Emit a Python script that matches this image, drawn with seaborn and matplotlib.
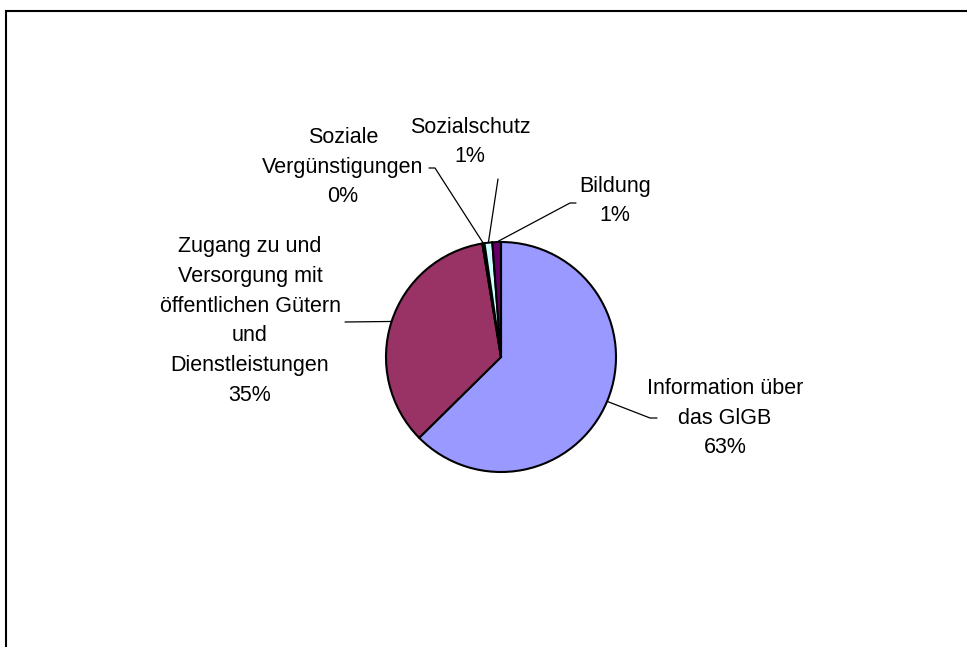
import numpy as np
import matplotlib.pyplot as plt
import seaborn as sns
from matplotlib.patches import Rectangle

# shares of enquiries per topic (percent), clockwise from 12 o'clock
topics = ["Information über\ndas GlGB",
          "Zugang zu und\nVersorgung mit\nöffentlichen Gütern\nund\nDienstleistungen",
          "Soziale\nVergünstigungen",
          "Sozialschutz",
          "Bildung"]
shares = [62.6, 34.8, 0.3, 1.1, 1.2]
colors = ["#9999FF", "#993366", "#FFFFCC", "#CCFFFF", "#660066"]

sns.set_theme(style="white")
plt.rcParams['font.family'] = ['Liberation Sans', 'DejaVu Sans']

W, H = 967, 647
fig = plt.figure(figsize=(W / 100, H / 100), dpi=100)
ax = fig.add_axes([0, 0, 1, 1])

cx, cy, r = 501, H - 357, 115
wedges, _ = ax.pie(shares, colors=colors, startangle=90, counterclock=False,
                   center=(cx, cy), radius=r, frame=True,
                   wedgeprops=dict(edgecolor='black', linewidth=1.5))
ax.set_xlim(0, W)
ax.set_ylim(0, H)
ax.set_aspect('equal')
ax.axis('off')

# label text positions (pixel coords, y from top) and leader end points
label_pos = [(725, 418), (250, 321), (343, 167), (470, 142), (615, 201)]
leader_end = [[(650, 418), (657, 418)],
              [(345, 322)],
              [(435, 168), (429, 168)],
              [(498, 179)],
              [(570, 203), (576, 203)]]

for i, w in enumerate(wedges):
    mid = np.deg2rad((w.theta1 + w.theta2) / 2)
    px, py = cx + r * np.cos(mid), cy + r * np.sin(mid)
    xs = [px] + [p[0] for p in leader_end[i]]
    ys = [py] + [H - p[1] for p in leader_end[i]]
    ax.plot(xs, ys, color='black', lw=0.9)
    pct = f"{round(shares[i])}%"
    lx, ly = label_pos[i]
    ax.text(lx, H - ly, topics[i] + "\n" + pct, ha='center', va='center',
            fontsize=15.5, linespacing=1.56, color='black')

# chart area border (only top and left visible in the crop)
fig.patches.append(Rectangle((6 / W, -0.05), 1.1, 1.05 - 11 / H,
                             transform=fig.transFigure, fill=False,
                             edgecolor='black', linewidth=1.5, clip_on=False))

fig.savefig("out.png", dpi=100)
